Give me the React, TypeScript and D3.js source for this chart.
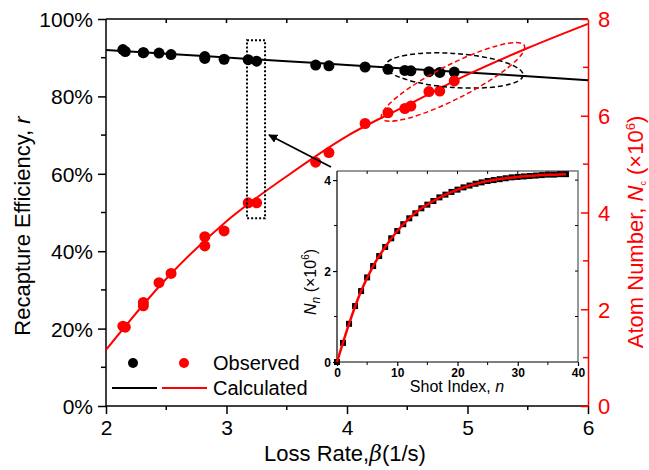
import React, { useEffect, useRef } from "react";
import * as d3 from "d3";

// observed points (loss rate beta, 1/s)
const lossRates = [2.14, 2.16, 2.31, 2.31, 2.44, 2.54, 2.82, 2.82, 2.98, 3.18, 3.25, 3.74, 3.85, 4.15, 4.34, 4.48, 4.53, 4.68, 4.77, 4.89];
const recapture = [92.1, 91.6, 91.3, 91.3, 91.2, 90.8, 90.3, 89.8, 89.6, 89.5, 89.1, 88.1, 87.9, 87.6, 87.0, 86.7, 86.6, 86.4, 86.2, 86.3];
const atomNumber = [1.65, 1.63, 2.14, 2.07, 2.55, 2.74, 3.5, 3.31, 3.62, 4.2, 4.2, 5.04, 5.24, 5.84, 6.06, 6.15, 6.2, 6.5, 6.51, 6.72];

// calculated curves
const calcBeta = [2, 2.5, 3, 3.5, 4, 4.5, 5, 5.5, 6];
const calcRecapture = [92.0, 91.0, 90.05, 89.1, 88.1, 87.15, 86.2, 85.2, 84.2];
const calcAtoms = [1.16, 2.63, 3.82, 4.75, 5.58, 6.22, 6.85, 7.4, 7.9];

// inset: loading curve vs shot index
const shotIndex = d3.range(0, 39);
const shotAtoms = [0, 0.42, 0.84, 1.23, 1.56, 1.86, 2.11, 2.33, 2.53, 2.72, 2.88, 3.03, 3.16, 3.27, 3.38, 3.46, 3.54, 3.62, 3.68, 3.74, 3.79, 3.84, 3.88, 3.92, 3.95, 3.98, 4.0, 4.02, 4.04, 4.06, 4.07, 4.08, 4.09, 4.1, 4.11, 4.12, 4.12, 4.13, 4.13];
const fitIndex = [0, 2, 4, 6, 8, 10, 12, 14, 16, 18, 20, 22, 24, 26, 28, 30, 32, 34, 36, 38];
const fitAtoms = [0, 0.84, 1.56, 2.11, 2.53, 2.88, 3.16, 3.38, 3.54, 3.68, 3.79, 3.88, 3.95, 4.0, 4.04, 4.07, 4.09, 4.11, 4.12, 4.13];

const xTicks = [2, 3, 4, 5, 6];
const leftTicks = [0, 20, 40, 60, 80, 100];
const rightTicks = [0, 2, 4, 6, 8];

const FONT = "'Liberation Sans', Arial, sans-serif";
const RED = "#ff0000";

function App() {
  const svgRef = useRef<SVGSVGElement>(null);

  useEffect(() => {
    const svg = d3.select(svgRef.current);
    svg.selectAll("*").remove();

    const left = 106, right = 588, top = 19, bottom = 406;
    const x = d3.scaleLinear().domain([2, 6]).range([left, right]);
    const yL = d3.scaleLinear().domain([0, 100]).range([bottom, top]);
    const yR = d3.scaleLinear().domain([0, 8]).range([bottom, top]);

    const g = svg.append("g").attr("font-family", FONT);

    // frame top line
    g.append("line").attr("x1", left).attr("x2", right).attr("y1", top).attr("y2", top).attr("stroke", "#000").attr("stroke-width", 1.5);

    // bottom axis
    const xAxis = d3.axisBottom(x).tickValues(xTicks).tickSize(8).tickPadding(6).tickFormat(d3.format("d"));
    const gx = g.append("g").attr("transform", `translate(0,${bottom})`).call(xAxis);
    gx.selectAll("text").attr("font-size", 21).attr("font-family", FONT).attr("fill", "#000");
    gx.selectAll("line, path").attr("stroke", "#000").attr("stroke-width", 1.5);
    gx.select(".domain").attr("d", `M${left},0H${right}`);
    const minorX = d3.range(2.5, 6, 1);
    g.selectAll(".mx").data(minorX).join("line").attr("x1", (d) => x(d)).attr("x2", (d) => x(d)).attr("y1", bottom).attr("y2", bottom + 4).attr("stroke", "#000").attr("stroke-width", 1.5);
    g.selectAll(".tx").data(d3.range(2.5, 6, 0.5)).join("line").attr("x1", (d) => x(d)).attr("x2", (d) => x(d)).attr("y1", top).attr("y2", top + 4).attr("stroke", "#000").attr("stroke-width", 1.5);

    // left axis
    const yAxis = d3.axisLeft(yL).tickValues(leftTicks).tickSize(8).tickPadding(5).tickFormat((d) => `${d}%`);
    const gy = g.append("g").attr("transform", `translate(${left},0)`).call(yAxis);
    gy.selectAll("text").attr("font-size", 21).attr("font-family", FONT).attr("fill", "#000").attr("dy", "0.36em");
    gy.selectAll("line, path").attr("stroke", "#000").attr("stroke-width", 1.5);
    gy.select(".domain").attr("d", `M0,${bottom}V${top}`);
    g.selectAll(".my").data(d3.range(10, 100, 20)).join("line").attr("x1", left - 5).attr("x2", left).attr("y1", (d) => yL(d)).attr("y2", (d) => yL(d)).attr("stroke", "#000").attr("stroke-width", 1.5);

    // right axis (red)
    const yAxisR = d3.axisRight(yR).tickValues(rightTicks).tickSizeInner(-7).tickSizeOuter(0).tickPadding(10).tickFormat(d3.format("d"));
    const gr = g.append("g").attr("transform", `translate(${right},0)`).call(yAxisR);
    gr.selectAll("text").attr("font-size", 22).attr("font-family", FONT).attr("fill", RED).attr("dy", "0.36em");
    gr.selectAll("line, path").attr("stroke", RED).attr("stroke-width", 1.5);
    g.selectAll(".mr").data([1, 3, 5, 7]).join("line").attr("x1", right - 5).attr("x2", right).attr("y1", (d) => yR(d)).attr("y2", (d) => yR(d)).attr("stroke", RED).attr("stroke-width", 1.5);

    // calculated curves
    const lineL = d3.line<number>().x((d, i) => x(calcBeta[i])).y((d) => yL(d)).curve(d3.curveMonotoneX);
    const lineR = d3.line<number>().x((d, i) => x(calcBeta[i])).y((d) => yR(d)).curve(d3.curveMonotoneX);
    g.append("path").attr("d", lineL(calcRecapture)).attr("fill", "none").attr("stroke", "#000").attr("stroke-width", 2);
    g.append("path").attr("d", lineR(calcAtoms)).attr("fill", "none").attr("stroke", RED).attr("stroke-width", 2);

    // observed
    g.selectAll(".pb").data(recapture).join("circle").attr("cx", (d, i) => x(lossRates[i])).attr("cy", (d) => yL(d)).attr("r", 5.5).attr("fill", "#000");
    g.selectAll(".pr").data(atomNumber).join("circle").attr("cx", (d, i) => x(lossRates[i])).attr("cy", (d) => yR(d)).attr("r", 5.5).attr("fill", RED);

    // annotations
    g.append("rect").attr("x", x(3.17)).attr("y", yL(94.5)).attr("width", x(3.32) - x(3.17)).attr("height", yL(48.5) - yL(94.5))
      .attr("fill", "none").attr("stroke", "#000").attr("stroke-width", 2).attr("stroke-dasharray", "2,2");
    g.append("ellipse").attr("cx", x(4.89)).attr("cy", yL(86.7)).attr("rx", 69).attr("ry", 17).attr("transform", `rotate(4 ${x(4.89)} ${yL(86.7)})`)
      .attr("fill", "none").attr("stroke", "#000").attr("stroke-width", 1.5).attr("stroke-dasharray", "5,3");
    g.append("ellipse").attr("cx", x(4.88)).attr("cy", yR(6.7)).attr("rx", 80).attr("ry", 17).attr("transform", `rotate(-27 ${x(4.88)} ${yR(6.7)})`)
      .attr("fill", "none").attr("stroke", RED).attr("stroke-width", 1.5).attr("stroke-dasharray", "5,3");

    const defs = svg.append("defs");
    defs.append("marker").attr("id", "arr").attr("viewBox", "0 0 10 10").attr("refX", 9).attr("refY", 5)
      .attr("markerWidth", 9).attr("markerHeight", 9).attr("markerUnits", "userSpaceOnUse").attr("orient", "auto")
      .append("path").attr("d", "M0,0L10,5L0,10Z").attr("fill", "#000");
    g.append("line").attr("x1", 331).attr("y1", 167).attr("x2", 269).attr("y2", 135).attr("stroke", "#000").attr("stroke-width", 1.8).attr("marker-end", "url(#arr)");

    // legend
    const lg = g.append("g").attr("font-size", 20);
    lg.append("circle").attr("cx", 133).attr("cy", 363).attr("r", 5).attr("fill", "#000");
    lg.append("circle").attr("cx", 184).attr("cy", 363).attr("r", 5).attr("fill", RED);
    lg.append("text").attr("x", 213).attr("y", 370).text("Observed");
    lg.append("line").attr("x1", 112).attr("x2", 157).attr("y1", 388).attr("y2", 388).attr("stroke", "#000").attr("stroke-width", 2);
    lg.append("line").attr("x1", 162).attr("x2", 207).attr("y1", 388).attr("y2", 388).attr("stroke", RED).attr("stroke-width", 2);
    lg.append("text").attr("x", 213).attr("y", 395).text("Calculated");

    // axis titles
    const xt = g.append("text").attr("x", 345).attr("y", 461).attr("text-anchor", "middle").attr("font-size", 22);
    xt.append("tspan").text("Loss Rate,");
    xt.append("tspan").attr("font-style", "italic").attr("font-family", "'DejaVu Serif', serif").text("β");
    xt.append("tspan").text("(1/s)");

    const lt = g.append("text").attr("transform", "translate(30,226) rotate(-90)").attr("text-anchor", "middle").attr("font-size", 22);
    lt.append("tspan").text("Recapture Efficiency, ");
    lt.append("tspan").attr("font-style", "italic").text("r");

    const rt = g.append("text").attr("transform", "translate(643,232) rotate(-90)").attr("text-anchor", "middle").attr("font-size", 22).attr("fill", RED);
    rt.append("tspan").text("Atom Number, ");
    rt.append("tspan").attr("font-style", "italic").text("N");
    rt.append("tspan").attr("font-size", 9).attr("dy", 3).text("c");
    rt.append("tspan").attr("dy", -3).text(" (×10");
    rt.append("tspan").attr("font-size", 13).attr("dy", -8).text("6");
    rt.append("tspan").attr("dy", 8).text(")");

    // inset
    const iL = 337, iR = 578, iT = 171, iB = 362;
    const ix = d3.scaleLinear().domain([0, 40]).range([iL, iR]);
    const iy = d3.scaleLinear().domain([0, 4.2]).range([iB, iT]);
    const ig = g.append("g");
    ig.append("rect").attr("x", iL).attr("y", iT).attr("width", iR - iL).attr("height", iB - iT).attr("fill", "#fff");
    ig.append("path").attr("d", `M${iL},${iT}H${iR}V${iB}`).attr("fill", "none").attr("stroke", "#777").attr("stroke-width", 1.5);
    ig.selectAll(".it").data(d3.range(5, 40, 5)).join("line").attr("x1", (d) => ix(d)).attr("x2", (d) => ix(d)).attr("y1", iT).attr("y2", iT + 3).attr("stroke", "#000");
    ig.selectAll(".ir").data([1, 2, 3, 4]).join("line").attr("x1", iR - 3).attr("x2", iR).attr("y1", (d) => iy(d)).attr("y2", (d) => iy(d)).attr("stroke", "#000");

    const ixAxis = d3.axisBottom(ix).tickValues([0, 10, 20, 30, 40]).tickSize(4).tickPadding(2).tickFormat(d3.format("d"));
    const gix = ig.append("g").attr("transform", `translate(0,${iB})`).call(ixAxis);
    gix.selectAll("text").attr("font-size", 12).attr("font-weight", "bold").attr("font-family", FONT).attr("fill", "#000");
    gix.selectAll("line, path").attr("stroke", "#000").attr("stroke-width", 1.2);
    gix.select(".domain").attr("d", `M${iL},0H${iR}`);
    ig.selectAll(".imx").data(d3.range(5, 40, 10)).join("line").attr("x1", (d) => ix(d)).attr("x2", (d) => ix(d)).attr("y1", iB).attr("y2", iB + 3).attr("stroke", "#000");

    const iyAxis = d3.axisLeft(iy).tickValues([0, 2, 4]).tickSize(4).tickPadding(2).tickFormat(d3.format("d"));
    const giy = ig.append("g").attr("transform", `translate(${iL},0)`).call(iyAxis);
    giy.selectAll("text").attr("font-size", 12).attr("font-weight", "bold").attr("font-family", FONT).attr("fill", "#000").attr("dy", "0.36em");
    giy.selectAll("line, path").attr("stroke", "#000").attr("stroke-width", 1.2);
    giy.select(".domain").attr("d", `M0,${iB}V${iT}`);
    ig.selectAll(".imy").data([1, 3]).join("line").attr("x1", iL - 3).attr("x2", iL).attr("y1", (d) => iy(d)).attr("y2", (d) => iy(d)).attr("stroke", "#000");

    ig.selectAll(".sq").data(shotAtoms).join("rect").attr("x", (d, i) => ix(shotIndex[i]) - 3).attr("y", (d) => iy(d) - 3).attr("width", 6).attr("height", 6).attr("fill", "#000");
    const fitLine = d3.line<number>().x((d, i) => ix(fitIndex[i])).y((d) => iy(d)).curve(d3.curveMonotoneX);
    ig.append("path").attr("d", fitLine(fitAtoms)).attr("fill", "none").attr("stroke", RED).attr("stroke-width", 2.5);

    const ixt = ig.append("text").attr("x", 457).attr("y", 392).attr("text-anchor", "middle").attr("font-size", 16);
    ixt.append("tspan").text("Shot Index, ");
    ixt.append("tspan").attr("font-style", "italic").text("n");

    const iyt = ig.append("text").attr("transform", "translate(316,282) rotate(-90)").attr("text-anchor", "middle").attr("font-size", 16);
    iyt.append("tspan").attr("font-style", "italic").text("N");
    iyt.append("tspan").attr("font-style", "italic").attr("font-size", 12).attr("dy", 4).text("n");
    iyt.append("tspan").attr("dy", -4).text(" (×10");
    iyt.append("tspan").attr("font-size", 10).attr("dy", -7).text("6");
    iyt.append("tspan").attr("dy", 7).text(")");
  }, []);

  return (
    <div style={{ position: "absolute", left: 0, top: 0 }}>
      <svg ref={svgRef} width={649} height={470} style={{ display: "block", background: "#fff" }} />
    </div>
  );
}

export default App;
